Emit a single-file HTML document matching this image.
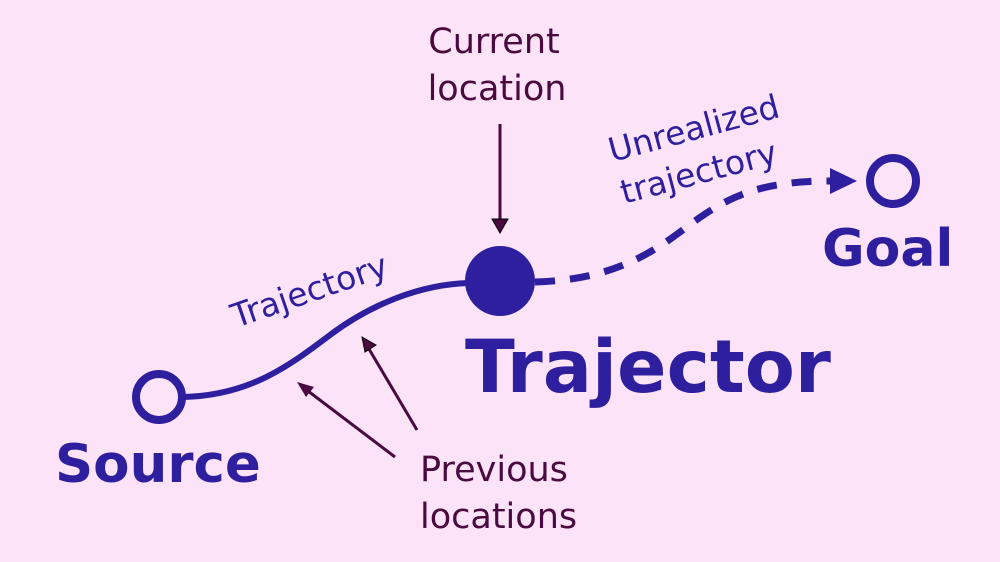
<!DOCTYPE html>
<html><head><style>html,body{margin:0;padding:0;background:#fde3f8;}svg{display:block}</style></head>
<body>
<svg width="1000" height="562" viewBox="0 0 1000 562" xmlns="http://www.w3.org/2000/svg" font-family="DejaVu Sans, Liberation Sans, sans-serif">
<rect width="1000" height="562" fill="#fde3f8"/>
<!-- trajectory -->
<path d="M182,397 C250,396 290,365 330,335 S420,284 470,283" fill="none" stroke="#2e1f9e" stroke-width="6"/>
<!-- dashed -->
<path d="M535,282 C600,280 640,262 680,232 S750,181 830,181" fill="none" stroke="#2e1f9e" stroke-width="7" stroke-dasharray="20,15"/>
<path d="M830,168 L857,181 L830,194 Z" fill="#2e1f9e"/>
<!-- circles -->
<circle cx="159" cy="397" r="23" fill="none" stroke="#2e1f9e" stroke-width="8"/>
<circle cx="500" cy="281" r="35" fill="#2e1f9e"/>
<circle cx="893" cy="181" r="23" fill="none" stroke="#2e1f9e" stroke-width="8"/>
<!-- arrows -->
<line x1="500" y1="124" x2="500" y2="220" stroke="#4a0a40" stroke-width="3"/>
<path d="M492,219 L508,219 L500,233 Z" fill="#4a0a40" stroke="#000" stroke-width="1"/>
<line x1="395" y1="457" x2="308" y2="391" stroke="#4a0a40" stroke-width="3"/>
<path d="M297,382 L314,387 L306,397 Z" fill="#4a0a40"/>
<line x1="417" y1="430" x2="369" y2="349" stroke="#4a0a40" stroke-width="3"/>
<path d="M362,337 L376,345 L365,352 Z" fill="#4a0a40" stroke="#000" stroke-width="1"/>
<!-- text -->
<g fill="#4a0a40" font-size="35">
<text x="494" y="53" text-anchor="middle">Current</text>
<text x="497" y="100" text-anchor="middle">location</text>
<text x="420" y="481">Previous</text>
<text x="420" y="528">locations</text>
</g>
<g fill="#2e1f9e" font-weight="bold">
<text x="55" y="482" font-size="53">Source</text>
<text x="465" y="392" font-size="73">Trajector</text>
<text x="822" y="266" font-size="52">Goal</text>
</g>
<g fill="#2e1f9e" font-size="33">
<text transform="translate(236,328) rotate(-19)">Trajectory</text>
<text transform="translate(612,162) rotate(-15)">Unrealized</text>
<text transform="translate(624,204) rotate(-15)">trajectory</text>
</g>
</svg>
</body></html>
